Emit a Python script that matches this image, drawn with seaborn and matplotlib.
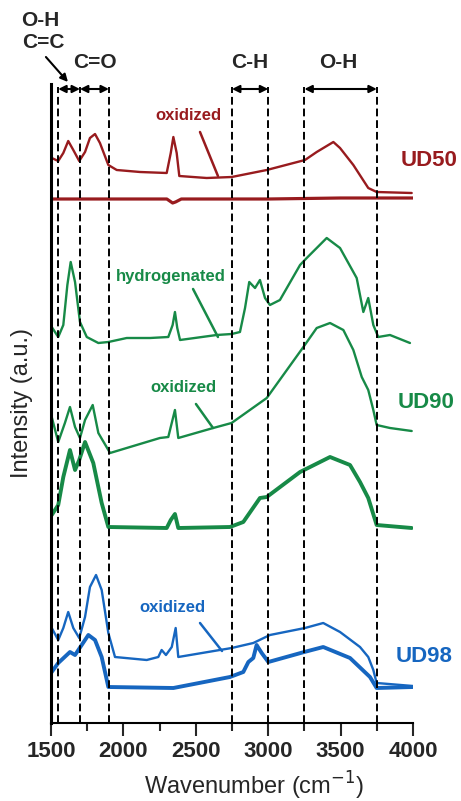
import numpy as np
import matplotlib
matplotlib.use("Agg")
import matplotlib.pyplot as plt
import seaborn as sns

# ---- data (wavenumber, intensity in arbitrary offset units) ----
ud50_ox_x = [1505, 1550, 1585, 1619, 1654, 1695, 1735, 1769, 1804, 1838, 1896, 1954, 2115, 2299, 2327, 2345, 2368, 2386,
             2575, 2748, 2990, 3254, 3335, 3450, 3496, 3588, 3691, 3749, 3991]
ud50_ox_y = [565, 562, 570, 582, 573, 562, 571, 585, 589, 580, 558, 553, 551, 550, 570, 586, 570, 547,
             545, 546, 553, 563, 571, 581, 575, 558, 535, 531, 530]

ud50_x = [1500, 2000, 2300, 2340, 2360, 2400, 3000, 3500, 4000]
ud50_y = [524, 524, 524, 520, 521, 524, 524, 525, 525]

ud90_h_x = [1505, 1550, 1585, 1613, 1636, 1666, 1700, 1747, 1827, 1896, 2023, 2184, 2310, 2340, 2356, 2372, 2391,
            2644, 2748, 2805, 2840, 2869, 2909, 2943, 2978, 3012, 3081, 3220, 3266, 3404, 3496, 3611, 3657, 3691,
            3726, 3760, 3841, 3979]
ud90_h_y = [396, 386, 398, 438, 461, 441, 401, 386, 380, 381, 385, 385, 386, 398, 411, 395, 383,
            388, 389, 391, 415, 441, 435, 443, 425, 418, 423, 458, 465, 485, 475, 445, 411, 425,
            398, 386, 388, 380]

ud90_ox_x = [1505, 1550, 1596, 1631, 1666, 1700, 1735, 1788, 1827, 1908, 2252, 2310, 2356, 2379, 2620, 2747, 2990,
             3243, 3335, 3427, 3519, 3588, 3646, 3691, 3726, 3749, 3841, 3991]
ud90_ox_y = [306, 281, 300, 316, 296, 285, 303, 318, 290, 270, 285, 286, 313, 285, 295, 300, 325,
             376, 395, 400, 393, 373, 346, 333, 313, 298, 295, 292]

ud90_x = [1505, 1550, 1585, 1631, 1666, 1695, 1735, 1792, 1850, 1896, 2299, 2327, 2356, 2379, 2736, 2828, 2943,
          2990, 3220, 3427, 3565, 3634, 3691, 3749, 3991]
ud90_y = [208, 218, 246, 273, 253, 263, 281, 260, 220, 196, 195, 203, 209, 195, 196, 201, 225,
          226, 251, 266, 258, 241, 225, 198, 195]

ud98_ox_x = [1505, 1550, 1585, 1619, 1654, 1695, 1735, 1769, 1811, 1850, 1896, 1942, 2161, 2241, 2264, 2294, 2334,
             2361, 2379, 2748, 2897, 3012, 3254, 3380, 3496, 3634, 3691, 3726, 3749, 4000]
ud98_ox_y = [95, 83, 95, 111, 95, 85, 106, 136, 148, 133, 90, 66, 63, 66, 73, 68, 76,
             95, 66, 75, 80, 88, 95, 100, 91, 76, 66, 53, 40, 37]

ud98_x = [1500, 1550, 1631, 1666, 1712, 1758, 1804, 1850, 1896, 2345, 2736, 2828, 2863, 2897, 2920, 2955, 3001,
          3249, 3380, 3565, 3703, 3749, 4000]
ud98_y = [50, 60, 71, 68, 78, 88, 83, 66, 36, 35, 46, 51, 61, 65, 78, 70, 61,
          71, 76, 65, 46, 35, 36]

band_edges = [1550, 1700, 1900, 2750, 3000, 3250, 3750]
band_pairs = [(1550, 1700), (1700, 1900), (2750, 3000), (3250, 3750)]

red = "#981b1e"
green = "#178a47"
blue = "#1666c0"

sns.set_style("ticks")
plt.rcParams["font.family"] = ["Liberation Sans", "DejaVu Sans"]

fig = plt.figure(figsize=(4.61, 8.01), dpi=100)
ax = fig.add_axes([51 / 461, 1 - 723 / 801, 362 / 461, 639 / 801])

curves = [
    (ud50_ox_x, ud50_ox_y, red, 1.7),
    (ud50_x, ud50_y, red, 2.3),
    (ud90_h_x, ud90_h_y, green, 1.7),
    (ud90_ox_x, ud90_ox_y, green, 1.7),
    (ud90_x, ud90_y, green, 2.8),
    (ud98_ox_x, ud98_ox_y, blue, 1.7),
    (ud98_x, ud98_y, blue, 2.8),
]
for xs, ys, c, lw in curves:
    sns.lineplot(x=xs, y=ys, color=c, lw=lw, ax=ax, sort=False, estimator=None)

ax.vlines(band_edges, 0, 636, colors="black", linestyles=(0, (4, 2)), lw=1.4)
for a, b in band_pairs:
    ax.annotate("", xy=(a, 634), xytext=(b, 634),
                arrowprops=dict(arrowstyle="<|-|>", color="black", lw=1.5,
                                shrinkA=0, shrinkB=0, mutation_scale=11))

# band labels
bold = dict(fontweight="bold", ha="center", va="center", clip_on=False)
ax.text(1427, 703, "O-H", fontsize=15, **bold)
ax.text(1445, 680, "C=C", fontsize=15, **bold)
ax.text(1804, 661, "C=O", fontsize=15, **bold)
ax.text(2874, 661, "C-H", fontsize=15, **bold)
ax.text(3482, 661, "O-H", fontsize=15, **bold)
ax.annotate("", xy=(1617, 641), xytext=(1465, 666), annotation_clip=False,
            arrowprops=dict(arrowstyle="-|>", color="black", lw=1.5,
                            shrinkA=0, shrinkB=0, mutation_scale=11))

# curve labels with pointer lines
notes = [
    ("oxidized", 2446, 607, (2529, 591), (2653, 547), red),
    ("hydrogenated", 2329, 447, (2481, 434), (2653, 386), green),
    ("oxidized", 2418, 335, (2501, 319), (2619, 295), green),
    ("oxidized", 2336, 116, (2529, 100), (2681, 72), blue),
]
for t, x, y, p0, p1, c in notes:
    ax.text(x, y, t, color=c, fontsize=12, **bold)
    ax.plot([p0[0], p1[0]], [p0[1], p1[1]], color=c, lw=1.8)

ax.text(4110, 563, "UD50", color=red, fontsize=16, **bold)
ax.text(4090, 321, "UD90", color=green, fontsize=16, **bold)
ax.text(4076, 66, "UD98", color=blue, fontsize=16, **bold)

ax.set_xlim(1500, 4000)
ax.set_ylim(0, 639)
ax.set_xticks([1500, 2000, 2500, 3000, 3500, 4000])
ax.set_xticks(np.arange(1750, 4000, 500), minor=True)
ax.set_yticks([])
ax.tick_params(axis="x", which="major", length=9, width=1.5, labelsize=16, pad=4)
ax.tick_params(axis="x", which="minor", length=6, width=1.5)
for lab in ax.get_xticklabels():
    lab.set_fontweight("bold")
sns.despine(ax=ax)
ax.spines["left"].set_linewidth(2.2)
ax.spines["bottom"].set_linewidth(1.5)
ax.spines["left"].set_color("black")
ax.spines["bottom"].set_color("black")

ax.set_xlabel("Wavenumber (cm$^{-1}$)", fontsize=17)
ax.set_ylabel("Intensity (a.u.)", fontsize=17)
ax.xaxis.set_label_coords((254 - 51) / 362, -(770 - 723) / 639)
ax.yaxis.set_label_coords((33 - 51) / 362, 0.5)

fig.savefig("out.png", dpi=100)
